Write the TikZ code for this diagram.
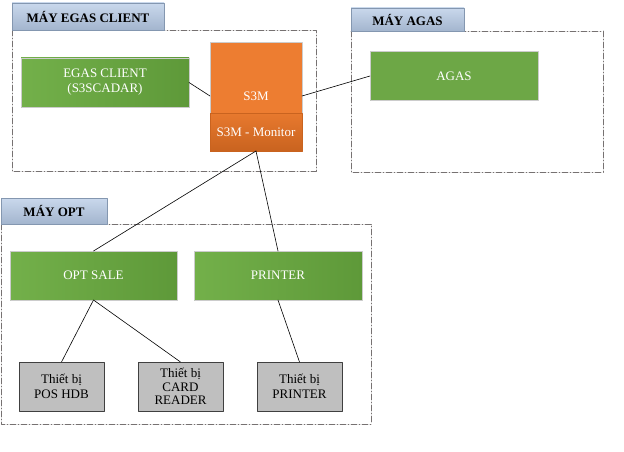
\documentclass[tikz,border=0pt]{standalone}
\usepackage{fontspec}
\setmainfont{Liberation Serif}
\usetikzlibrary{positioning}
\definecolor{grn}{HTML}{73B04A}
\definecolor{grndk}{HTML}{5E9939}
\definecolor{org}{HTML}{ED7D31}
\definecolor{orgdk}{HTML}{C9631F}
\definecolor{lbltop}{HTML}{C9D8EC}
\definecolor{lblbot}{HTML}{A3B5CE}
\definecolor{lblline}{HTML}{8497B0}
\definecolor{grpline}{HTML}{767171}
\tikzset{
  grpbox/.style={draw=grpline,line width=0.8pt,dash pattern=on 6pt off 2pt on 1pt off 2pt},
  grplabel/.style={draw=lblline,line width=0.8pt,top color=lbltop,bottom color=lblbot,inner sep=0pt,outer sep=0pt,font=\bfseries\fontsize{13}{14}\selectfont},
  grnbox/.style={draw=white!80!black,line width=0.8pt,left color=grn,right color=grndk,text=white,align=center,inner sep=0pt,outer sep=0pt,minimum width=168pt,minimum height=49pt,font=\fontsize{13}{15}\selectfont},
  devbox/.style={draw=black!75,line width=1pt,fill=black!25,align=center,inner sep=0pt,outer sep=0pt,minimum width=85pt,minimum height=49pt,font=\fontsize{13}{14.5}\selectfont},
  link/.style={line width=0.6pt}
}
\begin{document}
\begin{tikzpicture}[line cap=round,line join=round,x=1pt,y=-1pt]
      \useasboundingbox (0,0) rectangle (624,452);
      \draw[grpbox] (12,30) rectangle (316,171);
      \draw[grpbox] (351,31) rectangle (603,172);
      \draw[grpbox] (1,224) rectangle (371,424);
      \node[grplabel,minimum width=152pt,minimum height=27pt] (lblegas) at (88,16.5) {MÁY EGAS CLIENT};
      \node[grplabel,minimum width=113pt,minimum height=23pt] (lblagas) at (407.5,19.5) {MÁY AGAS};
      \node[grplabel,minimum width=106pt,minimum height=26pt] (lblopt) at (54,211) {MÁY OPT};
      \node[grnbox] (egas) at (105,82.5) {EGAS CLIENT\\(S3SCADAR)};
      \node[draw=white!80!black,line width=0.8pt,fill=org,inner sep=0pt,outer sep=0pt,minimum width=92pt,minimum height=71pt] (s3m) at (256,77.5) {};
      \node[text=white,font=\fontsize{13}{15}\selectfont] (s3mtext) at (256,96) {S3M};
      \node[draw=orgdk,line width=0.8pt,top color=org!85!orgdk,bottom color=orgdk,text=white,inner sep=0pt,outer sep=0pt,minimum width=92pt,minimum height=38pt,font=\fontsize{13}{15}\selectfont] (mon) at (256,132) {S3M - Monitor};
      \node[grnbox,left color=grn!95!black,right color=grn!95!black] (agas) at (454,76) {AGAS};
      \node[grnbox,minimum width=167pt] (optsale) at (93.5,275.5) {OPT SALE};
      \node[grnbox] (printer) at (278,275.5) {PRINTER};
      \node[devbox] (pos) at (61.5,386.5) {Thiết bị\\POS HDB};
      \node[devbox,font=\fontsize{13}{13.5}\selectfont] (card) at (180.5,386.5) {Thiết bị\\CARD\\READER};
      \node[devbox] (prdev) at (299.5,386.5) {Thiết bị\\PRINTER};
      \draw[link] (egas.east) -- (s3mtext -| s3m.west);
      \draw[link] (s3mtext -| s3m.east) -- (agas.west);
      \draw[link] (mon.south) -- (optsale.north);
      \draw[link] (mon.south) -- (printer.north);
      \draw[link] (optsale.south) -- (pos.north);
      \draw[link] (optsale.south) -- (card.north);
      \draw[link] (printer.south) -- (prdev.north);
    \end{tikzpicture}
\end{document}
